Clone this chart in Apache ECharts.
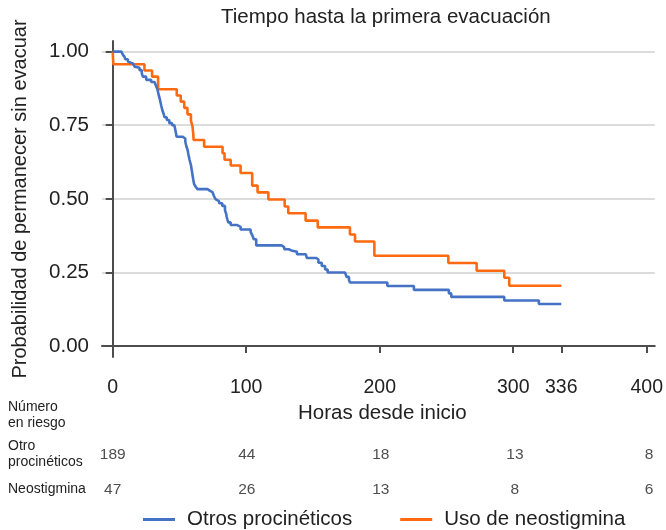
<!DOCTYPE html>
<html>
<head>
<meta charset="utf-8">
<script src="https://cdn.jsdelivr.net/npm/echarts@6/dist/echarts.min.js"></script>
<style>
  html, body { margin: 0; padding: 0; background: #fff; }
  #chart { width: 666px; height: 530px; }
</style>
</head>
<body>
<div id="chart"></div>
<script>
const FONT = "'Liberation Sans', Arial, Helvetica, sans-serif";
const TEXT = "#222222";
const AXIS = "#4d4d4d";

const xTicks = [0, 100, 200, 300, 336, 400];
const yTicks = [0, 0.25, 0.5, 0.75, 1];
const endTime = 336;

// Kaplan-Meier steps: [hora, supervivencia desde esa hora]
const otrosSteps = [
  [0, 1.0], [6.5, 0.995], [7.7, 0.989], [8.9, 0.982], [9.4, 0.974], [11.4, 0.966],
  [12.7, 0.96], [15.1, 0.954], [16.4, 0.949], [17.6, 0.945], [20.1, 0.937], [21.8, 0.926],
  [22.6, 0.915], [25.1, 0.904], [28.8, 0.897], [31.3, 0.894], [32.5, 0.883], [33.5, 0.872],
  [34.5, 0.852], [35.5, 0.835], [36.3, 0.818], [37.2, 0.801], [38.2, 0.788], [38.9, 0.777],
  [40.5, 0.768], [42.4, 0.757], [44.5, 0.75], [46.2, 0.745], [47.2, 0.728], [47.9, 0.711],
  [52.3, 0.705], [54.4, 0.694], [55.3, 0.677], [56.1, 0.666], [56.8, 0.649], [57.6, 0.632],
  [58.6, 0.615], [59.2, 0.598], [59.8, 0.581], [60.4, 0.564], [61, 0.55], [62.3, 0.54],
  [63.5, 0.533], [71, 0.528], [72.7, 0.523], [74.7, 0.517], [76, 0.508], [77.2, 0.498],
  [78.5, 0.492], [79.7, 0.485], [82.1, 0.476], [84.1, 0.462], [84.9, 0.451], [85.4, 0.439],
  [86, 0.429], [86.6, 0.42], [88.4, 0.411], [93.3, 0.405], [95.8, 0.396], [103.3, 0.388],
  [104.5, 0.377], [105.7, 0.363], [107.5, 0.342], [126.4, 0.336], [128.5, 0.329], [131.8, 0.325],
  [133.8, 0.32], [138, 0.312], [144.7, 0.307], [145.4, 0.299], [152.5, 0.294], [154.1, 0.283],
  [156.6, 0.272], [159.1, 0.26], [161, 0.25], [174, 0.245], [175.2, 0.235], [177, 0.224],
  [177.7, 0.216], [205.7, 0.204], [225.6, 0.191], [251.8, 0.179], [253.6, 0.167], [293.3, 0.155],
  [319.2, 0.143]
];
const neoSteps = [
  [0, 1.0], [0.5, 0.957], [23.8, 0.936], [29.5, 0.915], [34, 0.872], [48, 0.851],
  [51, 0.83], [53.6, 0.809], [56, 0.787], [58.6, 0.766], [59.8, 0.745], [60.3, 0.723],
  [60.6, 0.7], [68.5, 0.677], [82.3, 0.655], [83.8, 0.633], [88.4, 0.613], [95.8, 0.588],
  [104.5, 0.545], [108.5, 0.522], [116.6, 0.498], [128.8, 0.474], [131.5, 0.451], [144.5, 0.426],
  [153.6, 0.403], [177.7, 0.379], [181.5, 0.355], [196, 0.307], [251.4, 0.282], [272.6, 0.256],
  [293.3, 0.232], [297, 0.205]
];

const riskTimes = [0, 100, 200, 300, 400];
const riskGroups = ["Neostigmina", "Otro procinéticos"];
const riskOtros = [189, 44, 18, 13, 8];
const riskNeo = [47, 26, 13, 8, 6];

function withEnd(steps) {
  return steps.concat([[endTime, steps[steps.length - 1][1]]]);
}

const chart = echarts.init(document.getElementById("chart"));

chart.setOption({
  animation: false,
  textStyle: { fontFamily: FONT, color: TEXT },
  title: {
    text: "Tiempo hasta la primera evacuación",
    left: 221,
    top: 7,
    padding: 0,
    textStyle: { fontFamily: FONT, fontSize: 20.5, fontWeight: "normal", color: TEXT }
  },
  legend: {
    data: ["Otros procinéticos", "Uso de neostigmina"],
    left: 138,
    top: 504,
    icon: "rect",
    itemWidth: 32,
    itemHeight: 3,
    itemGap: 48,
    textStyle: { fontFamily: FONT, fontSize: 20.5, color: TEXT, padding: [0, 0, 0, 7] }
  },
  graphic: [
    {
      type: "text",
      left: 8,
      top: 399,
      style: { text: "Número\nen riesgo", font: "14px " + FONT, fill: TEXT, lineHeight: 16 }
    }
  ],
  grid: [
    { left: 102, right: 9, top: 41, height: 316 },
    { left: 102, right: 9, top: 437, height: 70 }
  ],
  xAxis: [
    {
      type: "value",
      gridIndex: 0,
      min: -8,
      max: 406,
      name: "Horas desde inicio",
      nameLocation: "middle",
      nameGap: 46,
      nameTextStyle: { fontFamily: FONT, fontSize: 20.5, color: TEXT, padding: [0, 0, 0, 8] },
      axisLine: { show: true, lineStyle: { color: AXIS, width: 2 } },
      axisTick: { show: true, customValues: xTicks, length: 7, lineStyle: { color: AXIS, width: 2 } },
      axisLabel: { customValues: xTicks, margin: 21, fontSize: 19.5, color: TEXT, fontFamily: FONT },
      splitLine: { show: false }
    },
    {
      type: "value",
      gridIndex: 1,
      min: -8,
      max: 406,
      show: false
    }
  ],
  yAxis: [
    {
      type: "value",
      gridIndex: 0,
      min: -0.037,
      max: 1.036,
      name: "Probabilidad de permanecer sin evacuar",
      nameLocation: "middle",
      nameGap: 72,
      nameTextStyle: { fontFamily: FONT, fontSize: 20, color: TEXT },
      axisLine: { show: true, lineStyle: { color: AXIS, width: 2 } },
      axisTick: { show: true, customValues: yTicks, length: 7, lineStyle: { color: AXIS, width: 2 } },
      axisLabel: {
        customValues: yTicks,
        margin: 13,
        fontSize: 20.5,
        color: TEXT,
        fontFamily: FONT,
        formatter: (v) => v.toFixed(2)
      },
      splitLine: { show: true, lineStyle: { color: "#d0d0d0", width: 1.5 } }
    },
    {
      type: "category",
      gridIndex: 1,
      data: riskGroups,
      axisLine: { show: false },
      axisTick: { show: false },
      splitLine: { show: false },
      axisLabel: {
        align: "left",
        margin: 94,
        fontSize: 14,
        lineHeight: 16,
        color: TEXT,
        fontFamily: FONT,
        formatter: (v) => (v === "Otro procinéticos" ? "Otro\nprocinéticos" : v)
      }
    }
  ],
  series: [
    {
      name: "Otros procinéticos",
      type: "line",
      step: "end",
      showSymbol: false,
      xAxisIndex: 0,
      yAxisIndex: 0,
      color: "#4472c4",
      lineStyle: { width: 2.6, color: "#4472c4" },
      data: withEnd(otrosSteps),
      z: 3
    },
    {
      name: "Uso de neostigmina",
      type: "line",
      step: "end",
      showSymbol: false,
      xAxisIndex: 0,
      yAxisIndex: 0,
      color: "#ff6a10",
      lineStyle: { width: 2.6, color: "#ff6a10" },
      data: withEnd(neoSteps),
      z: 2
    },
    {
      name: "riesgo-otros",
      type: "scatter",
      xAxisIndex: 1,
      yAxisIndex: 1,
      symbolSize: 1,
      itemStyle: { color: "rgba(0,0,0,0)" },
      label: { show: true, position: "inside", fontSize: 15.5, color: TEXT, fontFamily: FONT, formatter: (p) => p.value[2] },
      data: riskTimes.map((t, i) => [t, "Otro procinéticos", riskOtros[i]])
    },
    {
      name: "riesgo-neo",
      type: "scatter",
      xAxisIndex: 1,
      yAxisIndex: 1,
      symbolSize: 1,
      itemStyle: { color: "rgba(0,0,0,0)" },
      label: { show: true, position: "inside", fontSize: 15.5, color: TEXT, fontFamily: FONT, formatter: (p) => p.value[2] },
      data: riskTimes.map((t, i) => [t, "Neostigmina", riskNeo[i]])
    }
  ]
});
</script>
</body>
</html>
